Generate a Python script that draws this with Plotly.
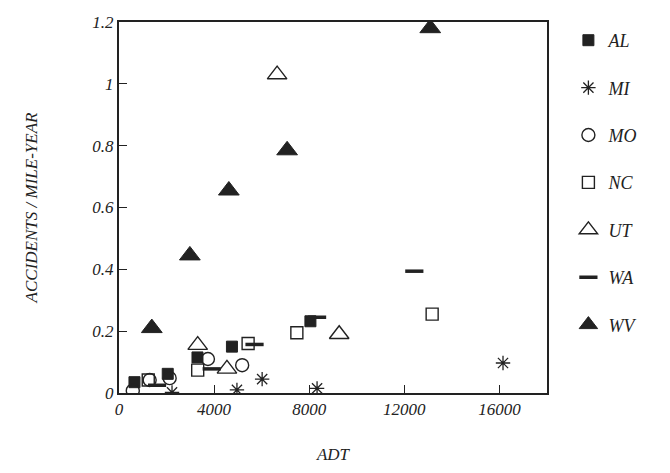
import plotly.graph_objects as go

# Data
al_x = [650, 2050, 3300, 4750, 8050]
al_y = [0.035, 0.062, 0.115, 0.150, 0.232]
mi_x = [2230, 4960, 6020, 8330, 16150]
mi_y = [0.002, 0.010, 0.045, 0.015, 0.097]
mo_x = [580, 1290, 2130, 3740, 5180]
mo_y = [0.008, 0.042, 0.048, 0.110, 0.090]
nc_x = [1230, 3310, 5430, 7480, 13170]
nc_y = [0.042, 0.074, 0.160, 0.195, 0.255]
ut_x = [3310, 4540, 6650, 9260]
ut_y = [0.155, 0.078, 1.030, 0.190]
wa_x = [1600, 3900, 5700, 8330, 12420]
wa_y = [0.025, 0.078, 0.157, 0.245, 0.394]
wv_x = [1380, 2980, 4620, 7070, 13090]
wv_y = [0.210, 0.445, 0.655, 0.785, 1.180]

x_ticks = [0, 4000, 8000, 12000, 16000]
y_ticks = [0, 0.2, 0.4, 0.6, 0.8, 1.0, 1.2]
y_tick_text = ["0", "0.2", "0.4", "0.6", "0.8", "1", "1.2"]

INK = "#222222"
FONT = "Liberation Serif"

series = [
    ("AL", al_x, al_y, dict(symbol="square", size=11, color=INK, line=dict(width=1, color=INK))),
    ("MI", mi_x, mi_y, dict(symbol="asterisk-open", size=12, color=INK, line=dict(width=1.3, color=INK))),
    ("MO", mo_x, mo_y, dict(symbol="circle-open", size=13, color=INK, line=dict(width=1.4, color=INK))),
    ("NC", nc_x, nc_y, dict(symbol="square-open", size=12, color=INK, line=dict(width=1.4, color=INK))),
    ("UT", ut_x, ut_y, dict(symbol="triangle-up-open", size=17, color=INK, line=dict(width=1.4, color=INK))),
    ("WA", wa_x, wa_y, dict(symbol="line-ew-open", size=13, color=INK, line=dict(width=3.5, color=INK))),
    ("WV", wv_x, wv_y, dict(symbol="triangle-up", size=18, color=INK, line=dict(width=1, color=INK))),
]

fig = go.Figure()
for i, (name, xs, ys, mk) in enumerate(series):
    fig.add_trace(go.Scatter(x=xs, y=ys, mode="markers", name=name, marker=mk,
                             legendgroup=f"g{i}"))

fig.update_layout(
    width=670, height=473,
    margin=dict(l=119, r=123, t=22, b=78),
    paper_bgcolor="white", plot_bgcolor="white",
    font=dict(family=FONT, size=17, color=INK, style="italic"),
    showlegend=True,
    legend=dict(x=1.05, xanchor="left", y=1.0, yanchor="top", maxheight=1.0,
                font=dict(family=FONT, size=18, color=INK, style="italic"),
                tracegroupgap=21, itemsizing="trace", bgcolor="rgba(0,0,0,0)"),
)
fig.update_xaxes(
    range=[0, 18000], tickvals=x_ticks, ticktext=[str(v) for v in x_ticks],
    showgrid=False, zeroline=False, showline=True, mirror=True,
    linecolor=INK, linewidth=2, ticks="inside", ticklen=8, tickwidth=1.3, tickcolor=INK,
    title=dict(text="ADT", font=dict(family=FONT, size=17, style="italic"), standoff=30),
    tickfont=dict(family=FONT, size=17, style="italic"),
)
fig.update_yaxes(
    range=[0, 1.2], tickvals=y_ticks, ticktext=y_tick_text,
    showgrid=False, zeroline=False, showline=True, mirror=True,
    linecolor=INK, linewidth=2, ticks="inside", ticklen=8, tickwidth=1.3, tickcolor=INK,
    title=dict(text="ACCIDENTS / MILE-YEAR", font=dict(family=FONT, size=17, style="italic"), standoff=50),
    tickfont=dict(family=FONT, size=17, style="italic"),
)

fig.write_html("out.html")
